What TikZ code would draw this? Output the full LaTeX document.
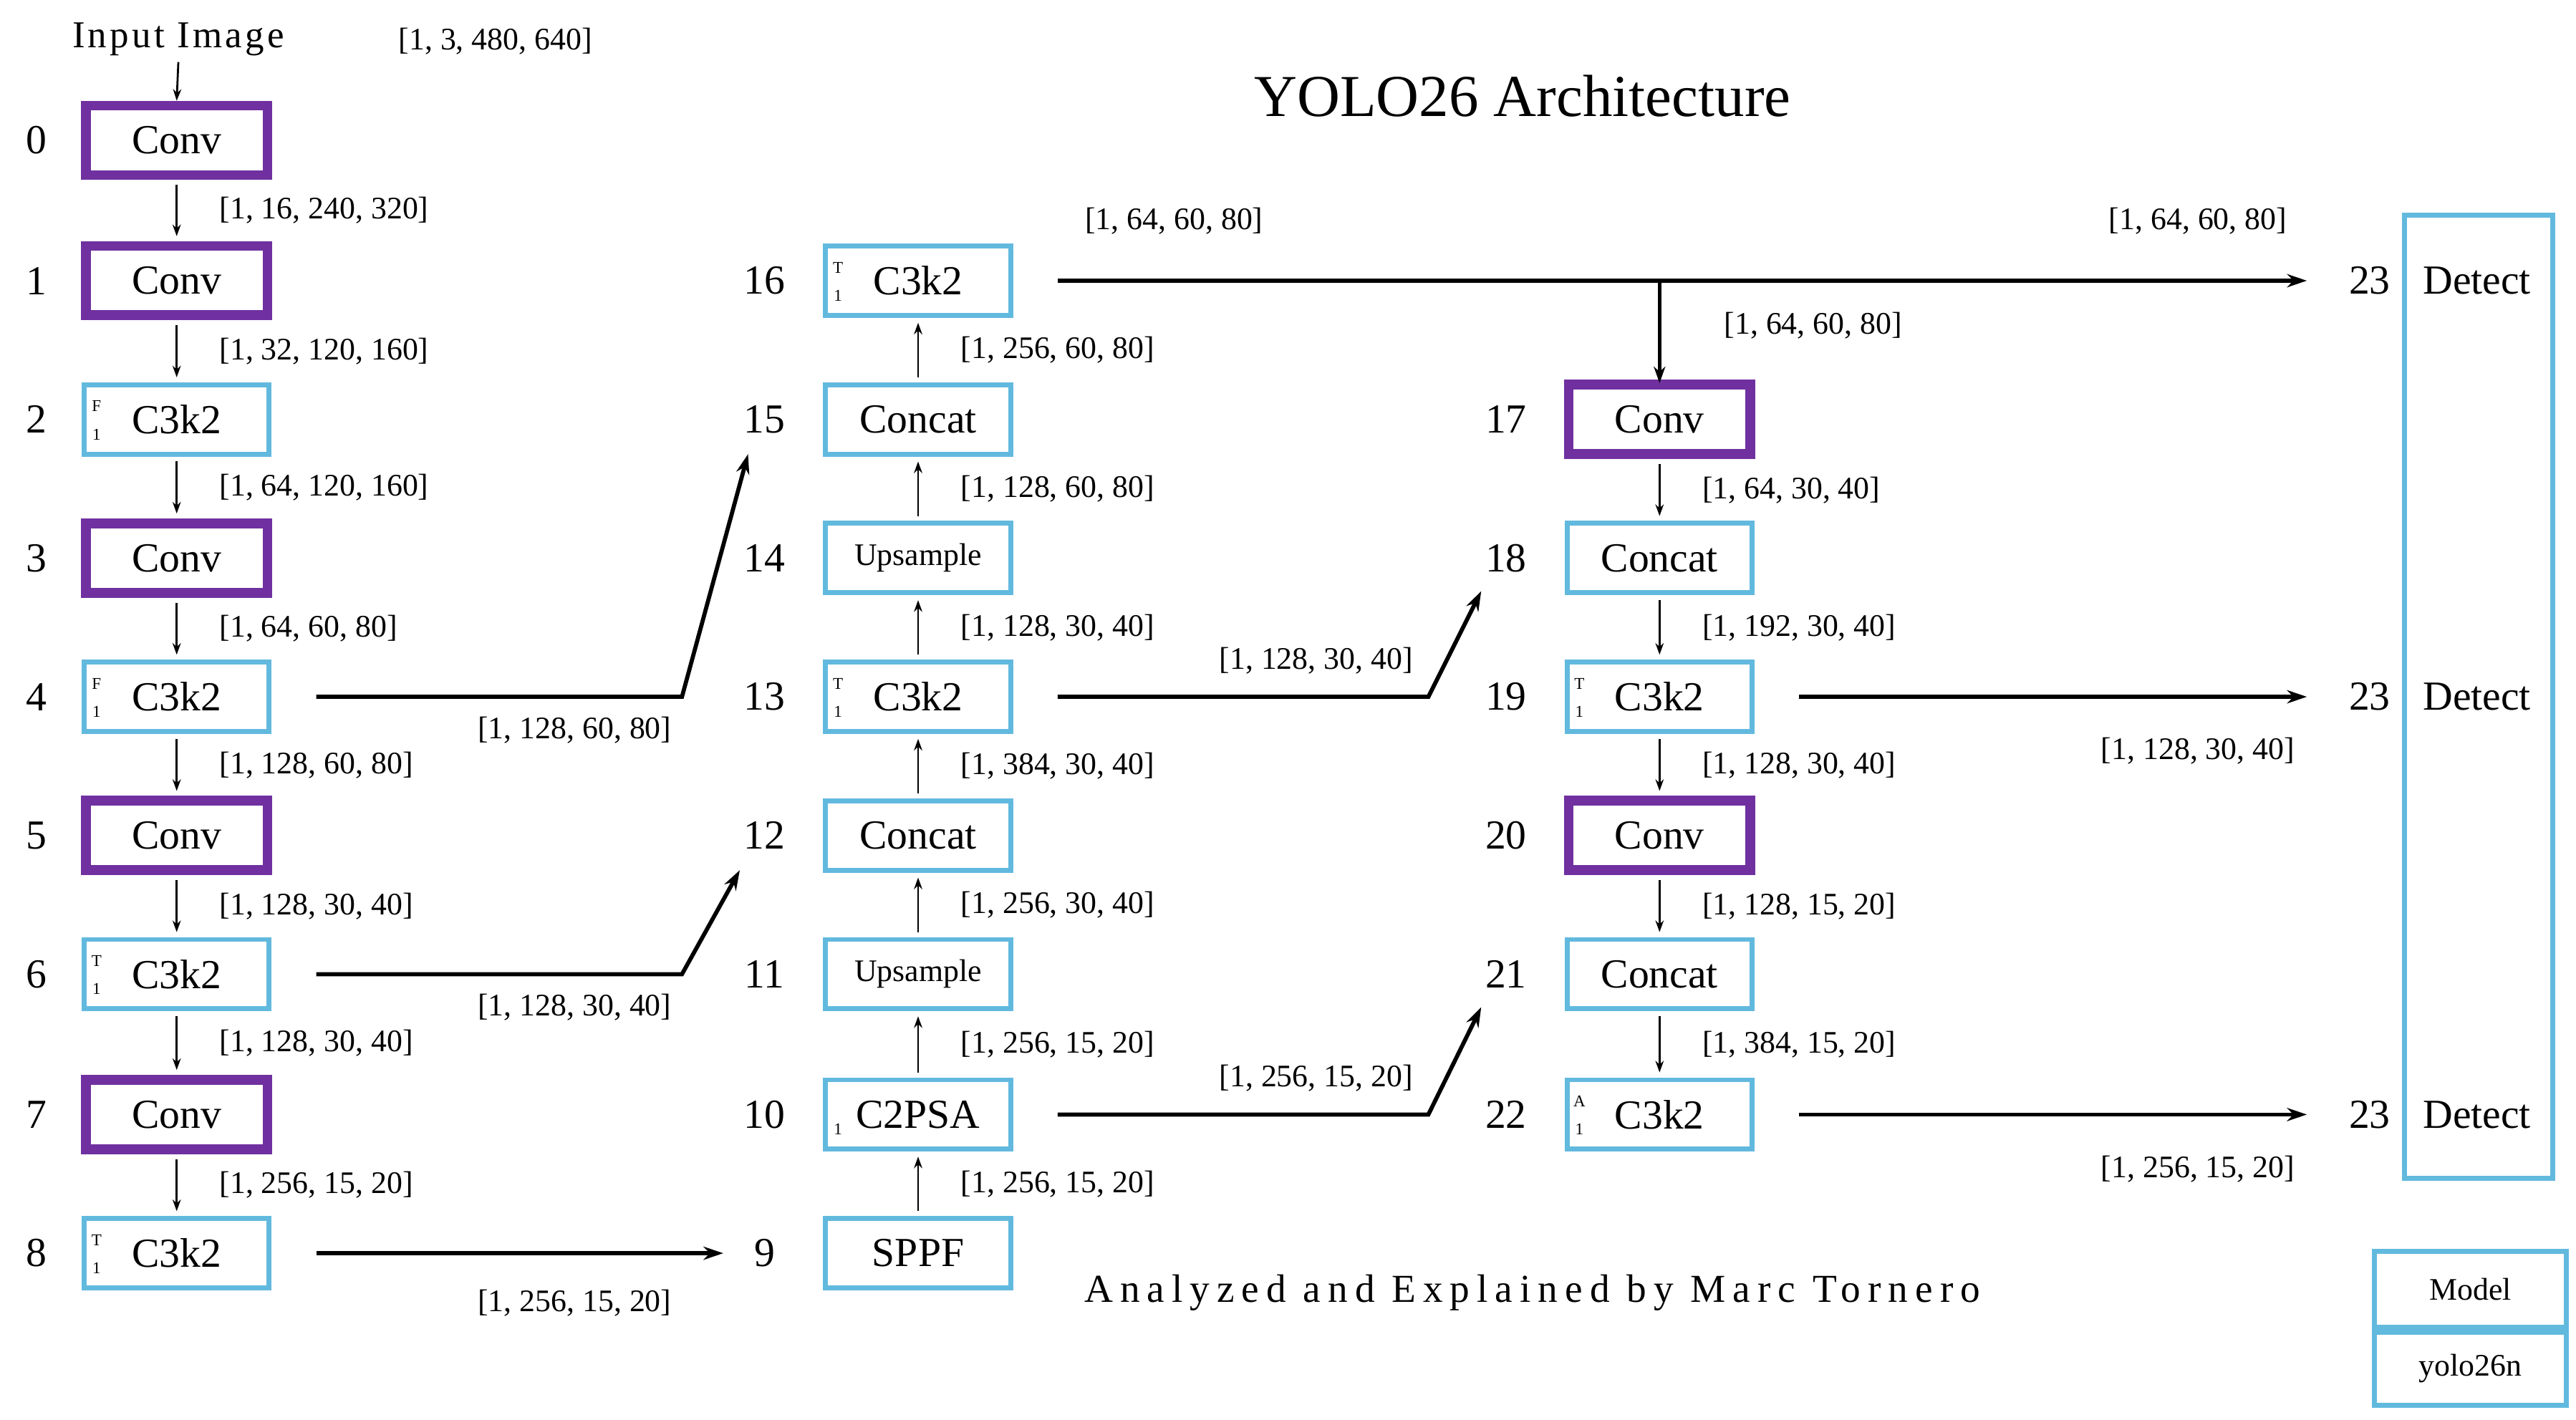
\documentclass[tikz,border=0pt]{standalone}
\usepackage{fontspec}
\setmainfont{Liberation Serif}
\usetikzlibrary{arrows.meta}
\definecolor{cpurple}{HTML}{7030A0}
\definecolor{cblue}{HTML}{62B9DE}
\begin{document}
\begin{tikzpicture}[x=1pt,y=-1pt,
  box/.style={draw=cblue,line width=3pt,minimum width=112pt,minimum height=42pt,inner sep=0pt,font=\fontsize{25}{28}\selectfont},
  conv/.style={box,draw=cpurple,line width=6pt,minimum width=110pt},
  idx/.style={font=\fontsize{25}{28}\selectfont},
  lab/.style={font=\fontsize{19}{22}\selectfont,anchor=west},
  clab/.style={font=\fontsize{19}{22}\selectfont},
  va/.style={-{Stealth[length=7pt,width=5pt]},line width=1.2pt},
  ha/.style={-{Stealth[length=12pt,width=8pt]},line width=2.5pt},
  tiny/.style={font=\fontsize{10}{11}\selectfont,inner sep=0pt}]
\useasboundingbox (0,0) rectangle (1560,860);
\newcommand{\mk}[3]{\node[tiny] at ([xshift=9pt,yshift=8pt]#1.west) {#2};\node[tiny] at ([xshift=9pt,yshift=-9pt]#1.west) {#3};}
% title
\node[font=\fontsize{36}{40}\selectfont] (title) at (922,58) {YOLO26 Architecture};
\node[font=\fontsize{24}{28}\selectfont] (credit) at (928,783) {\addfontfeature{LetterSpace=18}Analyzed and Explained by Marc Tornero};
% input
\node[idx,font=\fontsize{23}{26}\selectfont] (in) at (108,24) {\addfontfeature{LetterSpace=8}Input Image};
\node[clab] at (300,25) {[1, 3, 480, 640]};
% column 1
\foreach \i/\y in {0/85,1/170,2/254,3/338,4/422,5/506,6/590,7/675,8/759} \node[idx] at (22,\y) {\i};
\node[conv] (n0) at (107,85) {Conv};
\node[conv] (n1) at (107,170) {Conv};
\node[box] (n2) at (107,254) {C3k2};
\node[conv] (n3) at (107,338) {Conv};
\node[box] (n4) at (107,422) {C3k2};
\node[conv] (n5) at (107,506) {Conv};
\node[box] (n6) at (107,590) {C3k2};
\node[conv] (n7) at (107,675) {Conv};
\node[box] (n8) at (107,759) {C3k2};
\mk{n2}{F}{1}\mk{n4}{F}{1}\mk{n6}{T}{1}\mk{n8}{T}{1}
\draw[va] (in.south) -- (n0.north);
\foreach \a/\b/\t in {0/1/{[1, 16, 240, 320]},1/2/{[1, 32, 120, 160]},2/3/{[1, 64, 120, 160]},3/4/{[1, 64, 60, 80]},4/5/{[1, 128, 60, 80]},5/6/{[1, 128, 30, 40]},6/7/{[1, 128, 30, 40]},7/8/{[1, 256, 15, 20]}}{
  \draw[va] ([yshift=-3pt]n\a.south) -- ([yshift=3pt]n\b.north) node[lab,midway,xshift=22pt] {\t};}
% column 2
\foreach \i/\y in {16/170,15/254,14/338,13/422,12/506,11/590,10/675,9/759} \node[idx] at (463,\y) {\i};
\node[box] (n16) at (556,170) {C3k2};
\node[box] (n15) at (556,254) {Concat};
\node[box,font=\fontsize{19}{22}\selectfont] (n14) at (556,338) {Upsample};
\node[box] (n13) at (556,422) {C3k2};
\node[box] (n12) at (556,506) {Concat};
\node[box,font=\fontsize{19}{22}\selectfont] (n11) at (556,590) {Upsample};
\node[box] (n10) at (556,675) {C2PSA};
\node[box] (n9) at (556,759) {SPPF};
\mk{n16}{T}{1}\mk{n13}{T}{1}\mk{n10}{}{1}
\foreach \a/\b/\t in {9/10/{[1, 256, 15, 20]},10/11/{[1, 256, 15, 20]},11/12/{[1, 256, 30, 40]},12/13/{[1, 384, 30, 40]},13/14/{[1, 128, 30, 40]},14/15/{[1, 128, 60, 80]},15/16/{[1, 256, 60, 80]}}{
  \draw[va] ([yshift=3pt]n\a.north) -- ([yshift=-3pt]n\b.south) node[lab,midway,xshift=22pt] {\t};}
% column 3
\foreach \i/\y in {17/254,18/338,19/422,20/506,21/590,22/675} \node[idx] at (912,\y) {\i};
\node[conv] (n17) at (1005,254) {Conv};
\node[box] (n18) at (1005,338) {Concat};
\node[box] (n19) at (1005,422) {C3k2};
\node[conv] (n20) at (1005,506) {Conv};
\node[box] (n21) at (1005,590) {Concat};
\node[box] (n22) at (1005,675) {C3k2};
\mk{n19}{T}{1}\mk{n22}{A}{1}
\foreach \a/\b/\t in {17/18/{[1, 64, 30, 40]},18/19/{[1, 192, 30, 40]},19/20/{[1, 128, 30, 40]},20/21/{[1, 128, 15, 20]},21/22/{[1, 384, 15, 20]}}{
  \draw[va] ([yshift=-3pt]n\a.south) -- ([yshift=3pt]n\b.north) node[lab,midway,xshift=22pt] {\t};}
% detect
\node[draw=cblue,line width=3pt,minimum width=90pt,minimum height=583pt,inner sep=0pt] (det) at (1501,422) {};
\foreach \y/\n in {170/da,422/db,675/dc}{
  \node[idx] at (1435,\y) {23};
  \node[idx] (\n) at (1500,\y) {Detect};}
\coordinate (d1) at (1397,170);
\coordinate (d2) at (1397,422);
\coordinate (d3) at (1397,675);
% model
\node[draw=cblue,line width=3pt,minimum width=116pt,minimum height=46pt,inner sep=0pt,font=\fontsize{19}{22}\selectfont] (model) at (1496,781) {Model};
\node[draw=cblue,line width=3pt,minimum width=116pt,minimum height=44pt,inner sep=0pt,font=\fontsize{19}{22}\selectfont,anchor=north] (yolo) at (model.south) {yolo26n};
% long connectors
\coordinate (k4) at (413,422); \coordinate (e15) at (453,275);
\draw[ha,line join=miter] ([xshift=27pt]n4.east) -- (k4) -- (e15);
\node[clab] at (348,442) {[1, 128, 60, 80]};
\coordinate (k6) at (413,590); \coordinate (e12) at (448,527);
\draw[ha] ([xshift=27pt]n6.east) -- (k6) -- (e12);
\node[clab] at (348,610) {[1, 128, 30, 40]};
\coordinate (e9) at (438,759);
\draw[ha] ([xshift=27pt]n8.east) -- (e9);
\node[clab] at (348,789) {[1, 256, 15, 20]};
\coordinate (k13) at (865,422); \coordinate (e18) at (897,358);
\draw[ha] ([xshift=27pt]n13.east) -- (k13) -- (e18);
\node[clab] at (797,400) {[1, 128, 30, 40]};
\coordinate (k10) at (865,675); \coordinate (e21) at (897,610);
\draw[ha] ([xshift=27pt]n10.east) -- (k10) -- (e21);
\node[clab] at (797,653) {[1, 256, 15, 20]};
\draw[ha] ([xshift=27pt]n16.east) -- (d1);
\node[clab] at (711,134) {[1, 64, 60, 80]};
\node[clab] at (1331,134) {[1, 64, 60, 80]};
\coordinate (br) at (1005,170);
\draw[-{Stealth[length=10pt,width=7pt]},line width=2pt] (br) -- ([yshift=-2pt]n17.north);
\node[clab] at (1098,197) {[1, 64, 60, 80]};
\draw[ha] ([xshift=27pt]n19.east) -- (d2);
\node[clab] at (1331,455) {[1, 128, 30, 40]};
\draw[ha] ([xshift=27pt]n22.east) -- (d3);
\node[clab] at (1331,708) {[1, 256, 15, 20]};
\end{tikzpicture}
\end{document}
